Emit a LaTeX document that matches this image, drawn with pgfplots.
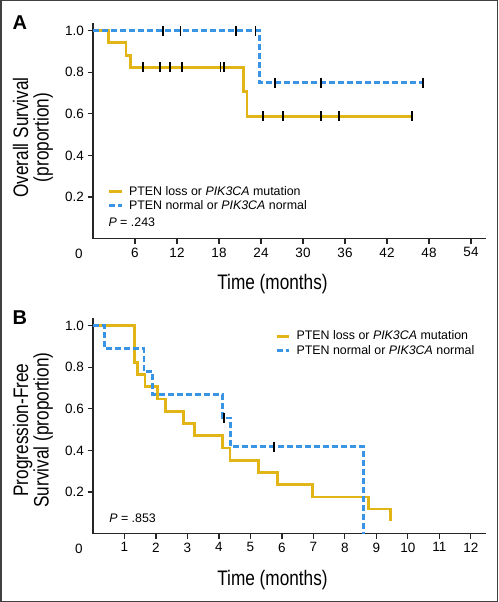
\documentclass[border=0pt]{standalone}
\usepackage{pgfplots}
\pgfplotsset{compat=1.18}
\usepackage{fontspec}
\setmainfont{Liberation Sans}
\newfontfamily\condfont[FakeStretch=0.82]{Liberation Sans}
\definecolor{kmyellow}{RGB}{226,181,22}
\definecolor{kmblue}{RGB}{58,148,228}
\pgfplotsset{
  kmstyle/.style={
    scale only axis, width=392.7pt, height=215.3pt,
    axis lines=left, axis line style={-, line width=1.3pt, black!85},
    ymin=0, ymax=1.035,
    ytick={0.2,0.4,0.6,0.8,1.0},
    yticklabel style={/pgf/number format/fixed, /pgf/number format/fixed zerofill, /pgf/number format/precision=1},
    tick align=outside, major tick length=5.5pt,
    tick style={line width=1.1pt, black!85},
    tick label style={font=\fontsize{13.5}{16}\selectfont},
    /pgf/number format/assume math mode=true,
    clip=false,
    legend image code/.code={\draw[##1] (0pt,0pt) -- (12.7pt,0pt); \path (18.5pt,0pt);},
    legend style={draw=none, fill=none, font=\fontsize{12.4}{14}\selectfont,
      inner sep=0pt, row sep=4pt, cells={anchor=west}, nodes={inner sep=0pt}},
  },
  yel/.style={kmyellow, line width=2.8pt, const plot},
  blu/.style={kmblue, line width=2.8pt, dash pattern=on 6pt off 3pt, const plot},
  cens/.style={only marks, mark=|, mark size=5pt, mark options={line width=1.8pt, black, solid}, forget plot},
}
\begin{document}
\begin{tikzpicture}
% ---------------- Panel A ----------------
\begin{axis}[kmstyle, at={(93pt,-238.6pt)}, anchor=south west,
  xmin=0, xmax=56.1, xtick={6,12,...,54},
  legend style={at={(axis description cs:0.037,0.245)}, anchor=north west}]
\addplot[yel] coordinates {(0,1) (2.2,0.941) (4.7,0.882) (5.3,0.824) (21.5,0.706) (22.0,0.588) (45.6,0.588)};
\addlegendentry{PTEN loss or \textit{PIK3CA} mutation}
\addplot[blu] coordinates {(0,1) (23.8,0.75) (47.1,0.75)};
\addlegendentry{PTEN normal or \textit{PIK3CA} normal}
\addplot[cens] coordinates {(7.1,0.824) (9.6,0.824) (11.05,0.824) (12.76,0.824) (18.2,0.824) (18.76,0.824) (24.3,0.588) (27.1,0.588) (32.6,0.588) (35.1,0.588) (45.6,0.588)};
\addplot[cens] coordinates {(10.05,1) (12.5,1) (20.4,1) (23.2,1) (26.0,0.75) (32.6,0.75) (47.1,0.75)};
\node[font=\fontsize{13.5}{16}\selectfont, inner sep=0pt] at ([xshift=-14pt,yshift=-15.2pt]axis cs:0,0) {0};
\node[font=\fontsize{12.4}{14}\selectfont, anchor=west, inner sep=0pt] at (axis description cs:0.039,0.075) {\textit{P} = .243};
\end{axis}
% ---------------- Panel B ----------------
\begin{axis}[kmstyle, at={(93pt,-533.6pt)}, anchor=south west,
  xmin=0, xmax=12.47, xtick={1,2,...,12},
  legend style={at={(axis description cs:0.4635,0.942)}, anchor=north west}]
\addplot[yel] coordinates {(0,1) (1.33,0.824) (1.41,0.765) (1.65,0.706) (2.06,0.647) (2.31,0.588) (2.87,0.529) (3.22,0.471) (4.12,0.412) (4.35,0.353) (5.25,0.294) (5.85,0.235) (6.96,0.176) (8.75,0.118) (9.45,0.059)};
\addlegendentry{PTEN loss or \textit{PIK3CA} mutation}
\addplot[blu] coordinates {(0,1) (0.36,0.889) (1.62,0.778) (1.89,0.667) (4.1,0.556) (4.36,0.417) (8.6,0)};
\addlegendentry{PTEN normal or \textit{PIK3CA} normal}
\addplot[cens] coordinates {(4.17,0.556) (5.75,0.417)};
\node[font=\fontsize{13.5}{16}\selectfont, inner sep=0pt] at ([xshift=-14pt,yshift=-15.2pt]axis cs:0,0) {0};
\node[font=\fontsize{12.4}{14}\selectfont, anchor=west, inner sep=0pt] at (axis description cs:0.041,0.071) {\textit{P} = .853};
\end{axis}
% ---------------- Labels ----------------
\node[font=\bfseries\fontsize{20}{22}\selectfont, anchor=base west, inner sep=0pt] at (12.5pt,-29.3pt) {A};
\node[font=\bfseries\fontsize{20}{22}\selectfont, anchor=base west, inner sep=0pt] at (12.5pt,-324pt) {B};
\node[font=\condfont\fontsize{21}{20.5}\selectfont, anchor=base, inner sep=0pt] at (272.5pt,-289.3pt) {Time (months)};
\node[font=\condfont\fontsize{21}{20.5}\selectfont, anchor=base, inner sep=0pt] at (272.5pt,-585pt) {Time (months)};
\node[font=\condfont\fontsize{21}{20.5}\selectfont, align=center, rotate=90, inner sep=0pt] at (33pt,-137.5pt) {Overall Survival\\(proportion)};
\node[font=\condfont\fontsize{21}{20.5}\selectfont, align=center, rotate=90, inner sep=0pt] at (33pt,-430pt) {Progression-Free\\Survival (proportion)};
\draw[line width=1.5pt, black!75] (0.75pt,-0.75pt) rectangle (497.25pt,-601.25pt);
\pgfresetboundingbox
\useasboundingbox (0,0) rectangle (498pt,-602pt);
\end{tikzpicture}
\end{document}
